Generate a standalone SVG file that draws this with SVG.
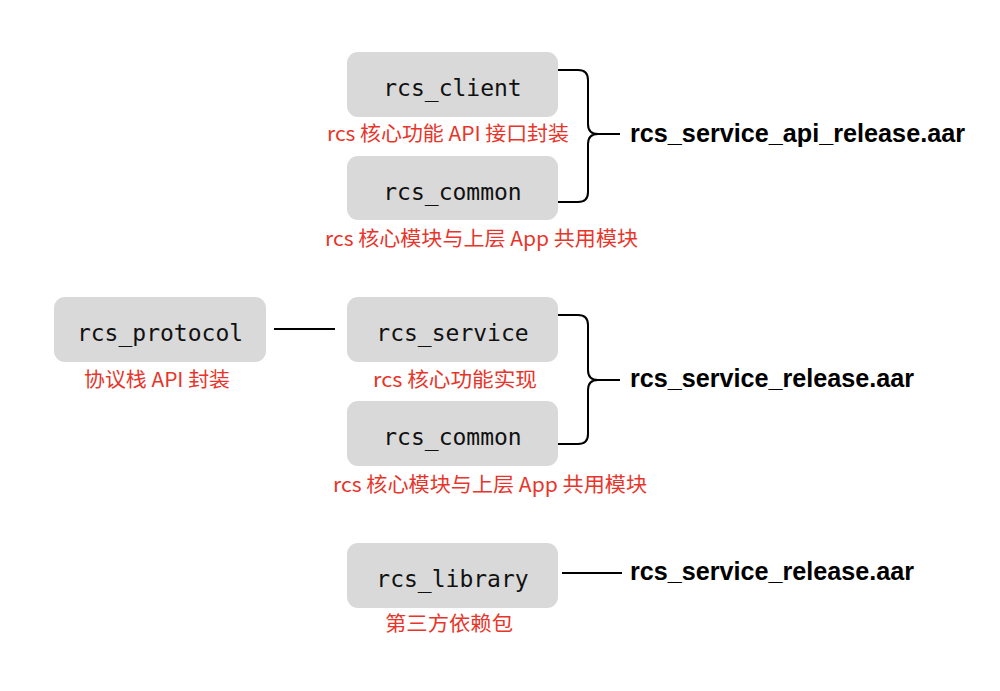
<svg xmlns="http://www.w3.org/2000/svg" width="1000" height="691" viewBox="0 0 1000 691">
<style>
.box{fill:#d9d9d9}
.mono{font-family:"DejaVu Sans Mono","Liberation Mono",monospace;font-size:23px;fill:#111;text-anchor:middle}
.red{font-family:"Noto Sans CJK SC","Noto Sans",sans-serif;font-size:20px;fill:#e8352b;text-anchor:middle}
.big{font-family:"Liberation Sans",Arial,sans-serif;font-size:26px;font-weight:bold;fill:#000}
.ln{fill:none;stroke:#000;stroke-width:2}
</style>
<rect width="1000" height="691" fill="#fff"/>
<g id="connectors">
<path class="ln" d="M558,70 H578 Q588,70 588,80 V124 Q588,134 598,134 H620 M598,134 Q588,134 588,144 V192 Q588,202 578,202 H558"/>
<path class="ln" d="M558,315 H578 Q588,315 588,325 V370 Q588,380 598,380 H620 M598,380 Q588,380 588,390 V434 Q588,444 578,444 H558"/>
<line class="ln" x1="274" y1="329" x2="335" y2="329"/>
<line class="ln" x1="562" y1="573" x2="622" y2="573"/>
</g>
<g id="rcs_client"><rect class="box" x="347" y="52" width="211" height="65" rx="11"/><text class="mono" x="452.5" y="96">rcs_client</text></g>
<text class="red" x="448" y="141" textLength="242" lengthAdjust="spacingAndGlyphs">rcs 核心功能 API 接口封装</text>
<g id="rcs_common_1"><rect class="box" x="347" y="156" width="211" height="64" rx="11"/><text class="mono" x="452.5" y="200">rcs_common</text></g>
<text class="red" x="481.5" y="246" textLength="313" lengthAdjust="spacingAndGlyphs">rcs 核心模块与上层 App 共用模块</text>
<g id="out1"><text class="big" x="630" y="142" textLength="335" lengthAdjust="spacingAndGlyphs">rcs_service_api_release.aar</text></g>
<g id="rcs_protocol"><rect class="box" x="54" y="297" width="212" height="65" rx="11"/><text class="mono" x="160" y="341">rcs_protocol</text></g>
<text class="red" x="157" y="387" textLength="146" lengthAdjust="spacingAndGlyphs">协议栈 API 封装</text>
<g id="rcs_service"><rect class="box" x="347" y="297" width="211" height="65" rx="11"/><text class="mono" x="452.5" y="341">rcs_service</text></g>
<text class="red" x="455" y="387" textLength="164" lengthAdjust="spacingAndGlyphs">rcs 核心功能实现</text>
<g id="rcs_common_2"><rect class="box" x="347" y="401" width="211" height="65" rx="11"/><text class="mono" x="452.5" y="445">rcs_common</text></g>
<text class="red" x="490" y="492" textLength="314" lengthAdjust="spacingAndGlyphs">rcs 核心模块与上层 App 共用模块</text>
<g id="out2"><text class="big" x="630" y="387" textLength="284" lengthAdjust="spacingAndGlyphs">rcs_service_release.aar</text></g>
<g id="rcs_library"><rect class="box" x="347" y="543" width="211" height="65" rx="11"/><text class="mono" x="452.5" y="587">rcs_library</text></g>
<text class="red" x="449" y="631" textLength="128" lengthAdjust="spacingAndGlyphs">第三方依赖包</text>
<g id="out3"><text class="big" x="630" y="580" textLength="284" lengthAdjust="spacingAndGlyphs">rcs_service_release.aar</text></g>
</svg>
